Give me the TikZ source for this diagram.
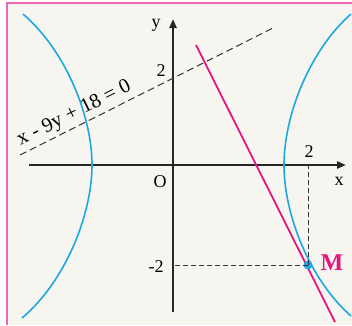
\documentclass[tikz,border=0pt]{standalone}
\usepackage{fontspec}
\setmainfont{Liberation Serif}
\usetikzlibrary{arrows.meta}
\definecolor{cblue}{HTML}{1DA8E2}
\definecolor{cmagenta}{HTML}{E6157F}
\definecolor{cframe}{HTML}{F064B4}
\definecolor{cpaper}{HTML}{F6F5EF}
\newcommand{\gap}{\hspace{0.27em}}
\tikzset{
  axis/.style={draw=black!85, line width=2.4pt, -{Triangle[length=9pt, width=7pt]}},
  branch/.style={draw=cblue, line width=1.6pt},
  guide/.style={draw=black!80, line width=1pt, dash pattern=on 5pt off 3pt},
  lbl/.style={font=\fontsize{18}{18}\selectfont, inner sep=0pt},
}

\begin{document}
\begin{tikzpicture}[x=1pt, y=-1pt]
  \useasboundingbox (0,0) rectangle (352,325);
  % paper and frame
  \fill[cpaper] (7,3) rectangle (352,325);
  \draw[cframe, line width=2pt] (7,325) -- (7,3) -- (352,3);
  % axes
  \coordinate (O) at (173,165);
  \coordinate (xl) at (29,165);
  \coordinate (xr) at (346,165);
  \coordinate (yb) at (173,312);
  \coordinate (yt) at (173,19);
  \draw[axis] (xl) -- (xr);
  \draw[axis] (yb) -- (yt);
  \node[lbl] (ylab) at (156,25) {y};
  \node[lbl] (xlab) at (339,181) {x};
  \node[lbl] (olab) at (160,182) {O};
  \node[lbl] (ytwo) at (161,71) {2};
  \node[lbl] (ymtwo) at (156,267) {-2};
  \node[lbl] (xtwo) at (309,152) {2};
  % hyperbola, two branches
  \coordinate (vl) at (92,165);
  \coordinate (vr) at (284,165);
  \draw[branch] (23,14) .. controls (65,50) and (92,115) .. (vl)
    .. controls (92,215) and (65,282) .. (22,318);
  \draw[branch] (351,14) .. controls (310,50) and (284,115) .. (vr)
    .. controls (284,215) and (310,280) .. (351,316);
  % line x - 9y + 18 = 0
  \coordinate (eqA) at (20,155);
  \coordinate (eqB) at (275,27);
  \draw[guide, dash pattern=on 7pt off 4pt] (eqA) -- (eqB)
    node[lbl, font=\fontsize{20.5}{20.5}\selectfont, pos=0.235, sloped, above=3pt] (eqlab)
    {x\gap-\gap9y\gap+\gap18\gap=\gap0};
  % tangent at M
  \coordinate (tA) at (196,45);
  \coordinate (tB) at (335,322);
  \draw[cmagenta, line width=1.8pt] (tA) -- (tB);
  % point M and its projections
  \coordinate (Mx) at (308,165);
  \coordinate (My) at (173,265);
  \node[circle, fill=cblue, inner sep=0pt, minimum size=9pt] (M) at (308,265) {};
  \draw[guide] (M.center) -- (Mx);
  \draw[guide] (M.center) -- (My);
  \node[font=\fontsize{24}{24}\selectfont\bfseries, text=cmagenta, inner sep=0pt] (mlab) at (332,263) {M};
\end{tikzpicture}
\end{document}
